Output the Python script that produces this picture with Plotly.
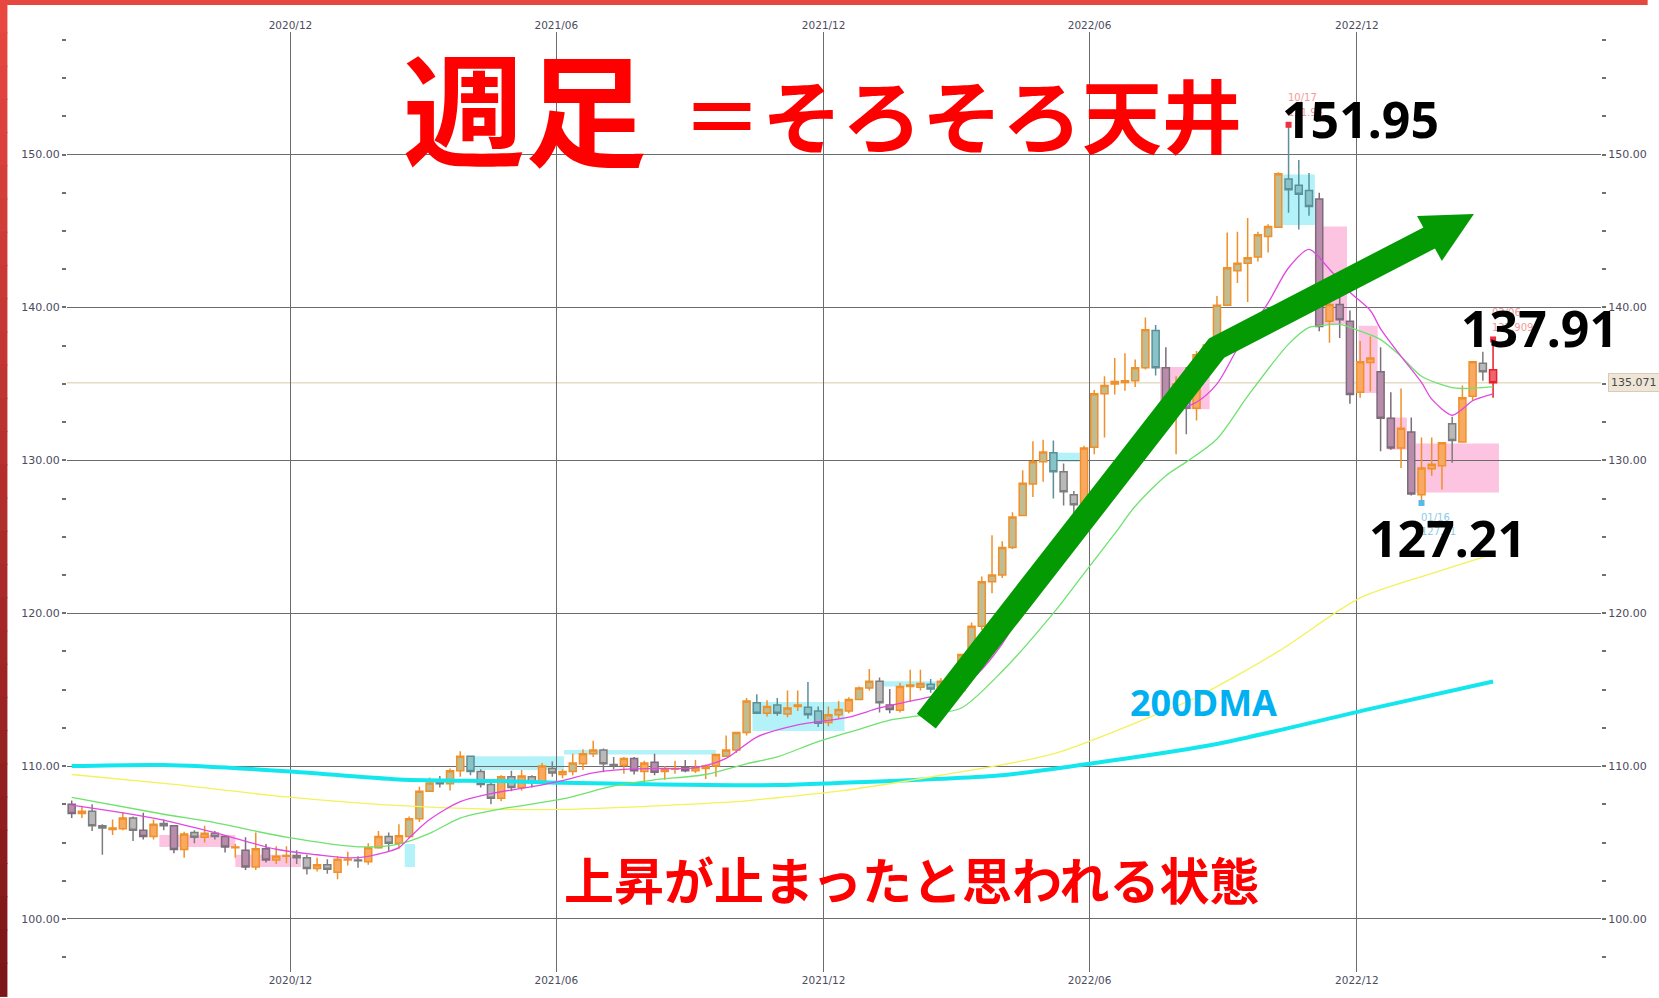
import pandas as pd
import plotly.graph_objects as go

# weekly USD/JPY candles, one per Monday
dates = pd.date_range("2020-07-06", periods=140, freq="7D")

opens = [
    107.5, 106.9, 107.05, 106.1, 105.85, 105.9, 106.6, 105.8, 105.4, 106.25,
    106.1, 104.55, 105.65, 105.35, 105.6, 105.4, 104.65, 104.5, 103.4, 104.6,
    103.85, 104.1, 104.15, 104.0, 103.3, 103.55, 103.05, 103.85, 103.85, 103.75,
    104.65, 105.4, 104.95, 105.4, 106.55, 108.35, 108.95, 108.85, 109.7, 110.65,
    109.65, 108.8, 107.9, 109.3, 108.6, 109.3, 108.95, 109.85, 109.45, 109.65,
    110.15, 110.8, 111.05, 110.1, 110.05, 110.5, 109.65, 110.25, 109.65, 109.8,
    109.9, 109.7, 109.85, 110.0, 110.65, 111.05, 112.2, 114.15, 113.45, 114.0,
    113.4, 113.9, 113.85, 113.6, 112.85, 113.35, 113.6, 114.35, 115.1, 115.55,
    114.0, 113.65, 115.2, 115.15, 115.35, 115.05, 115.55, 114.95, 117.3, 119.15,
    122.05, 122.5, 124.3, 126.4, 128.45, 129.9, 130.5, 129.25, 127.75, 126.95,
    130.85, 134.35, 135.0, 135.1, 135.2, 136.05, 138.5, 136.05, 133.35, 135.0,
    133.4, 136.95, 137.55, 140.15, 142.4, 142.9, 143.3, 144.65, 145.25, 148.4,
    148.0, 147.65, 147.1, 139.1, 140.2, 139.1, 134.45, 136.4, 135.8, 132.75,
    130.8, 131.85, 127.75, 129.45, 129.65, 132.4, 131.2, 134.2, 136.35, 135.92,
]
highs = [
    107.75, 107.4, 107.5, 106.2, 106.5, 107.0, 106.7, 106.95, 106.5, 106.5,
    106.1, 105.7, 105.8, 106.1, 105.75, 105.5, 104.9, 105.35, 105.65, 104.9,
    104.75, 104.75, 104.5, 104.2, 104.0, 103.9, 104.1, 104.4, 104.1, 104.95,
    105.75, 105.65, 106.2, 106.7, 108.65, 109.25, 109.35, 109.85, 110.97, 110.7,
    109.8, 108.9, 109.4, 109.7, 109.75, 109.4, 110.2, 110.3, 109.8, 110.8,
    111.1, 111.66, 111.15, 110.6, 110.6, 110.6, 110.35, 110.8, 110.0, 110.35,
    110.4, 110.4, 110.1, 110.8, 112.0, 112.25, 114.45, 114.7, 114.3, 114.45,
    114.95, 114.95, 115.5, 113.9, 113.9, 114.25, 114.5, 115.2, 116.35, 115.8,
    115.05, 115.45, 116.3, 116.3, 115.7, 115.75, 115.8, 117.35, 119.4, 122.4,
    125.1, 124.7, 126.6, 129.35, 131.25, 131.35, 131.3, 129.8, 128.0, 130.95,
    134.6, 135.5, 136.7, 137.0, 136.6, 139.35, 138.85, 137.4, 135.5, 136.1,
    137.15, 137.7, 140.75, 144.9, 144.95, 145.85, 144.95, 145.45, 148.85, 151.95,
    149.65, 148.8, 147.5, 140.8, 142.25, 139.8, 137.8, 138.1, 137.4, 134.45,
    134.7, 132.8, 131.5, 131.5, 131.2, 132.85, 134.9, 136.5, 137.1, 137.909,
]
lows = [
    106.6, 106.6, 105.75, 104.2, 105.5, 105.8, 105.1, 105.2, 105.2, 105.8,
    104.3, 104.0, 104.95, 105.0, 105.2, 104.35, 104.0, 103.2, 103.2, 103.7,
    103.6, 103.65, 103.6, 102.9, 103.1, 102.95, 102.6, 103.5, 103.35, 103.55,
    104.6, 104.4, 104.6, 105.3, 106.35, 108.3, 108.6, 108.4, 109.3, 109.4,
    108.6, 107.5, 107.7, 108.35, 108.4, 108.6, 108.8, 109.3, 109.2, 109.4,
    109.75, 110.6, 109.6, 109.8, 109.5, 109.45, 108.9, 109.4, 109.1, 109.5,
    109.6, 109.55, 109.15, 109.3, 110.6, 110.85, 112.0, 113.4, 113.25, 113.3,
    113.2, 113.6, 113.1, 112.55, 112.6, 113.1, 113.45, 114.3, 114.95, 113.5,
    113.45, 113.5, 114.2, 114.95, 114.8, 114.4, 114.65, 114.85, 117.2, 118.9,
    121.3, 122.3, 124.2, 126.4, 127.6, 128.6, 127.5, 127.05, 126.4, 126.9,
    130.4, 131.5, 134.3, 134.55, 134.8, 135.95, 135.55, 132.5, 130.4, 131.7,
    132.6, 136.3, 137.5, 140.1, 141.6, 140.35, 143.0, 143.6, 145.2, 146.2,
    145.1, 146.0, 138.45, 137.7, 138.0, 133.7, 134.1, 134.5, 130.6, 130.7,
    129.5, 127.7, 127.21, 129.0, 128.1, 129.85, 131.2, 133.9, 135.2, 134.1,
]
closes = [
    106.9, 107.05, 106.1, 105.95, 105.95, 106.6, 105.8, 105.4, 106.2, 106.1,
    104.55, 105.55, 105.35, 105.6, 105.4, 104.7, 104.7, 103.4, 104.6, 103.85,
    104.1, 104.15, 104.0, 103.3, 103.55, 103.25, 103.9, 103.9, 103.8, 104.65,
    105.4, 104.95, 105.45, 106.55, 108.35, 108.9, 108.85, 109.7, 110.65, 109.65,
    108.8, 107.9, 109.3, 108.6, 109.35, 108.95, 110.0, 109.55, 109.65, 110.2,
    110.8, 111.05, 110.15, 110.05, 110.5, 109.7, 110.2, 109.6, 109.8, 109.85,
    109.7, 109.9, 110.0, 110.75, 111.05, 112.2, 114.25, 113.45, 113.9, 113.45,
    113.8, 114.0, 113.35, 112.8, 113.35, 113.7, 114.35, 115.1, 115.55, 114.15,
    113.7, 115.2, 115.3, 115.4, 115.05, 115.55, 114.85, 117.3, 119.15, 122.05,
    122.5, 124.3, 126.3, 128.5, 129.9, 130.55, 129.25, 127.95, 127.1, 130.8,
    134.35, 134.9, 135.15, 135.2, 136.05, 138.55, 136.05, 133.3, 135.0, 133.4,
    136.9, 137.55, 140.15, 142.6, 142.9, 143.25, 144.75, 145.3, 148.75, 147.7,
    147.4, 146.6, 138.75, 140.2, 139.2, 134.3, 136.45, 136.7, 132.75, 130.8,
    132.1, 127.8, 129.5, 129.75, 131.15, 131.3, 134.1, 136.45, 135.8, 135.071,
]
# body tone of each candle as drawn by the charting tool
tones = (
    "m u g g u u g m u g  m u g u g m u m u m  u u g g u g u u g u  "
    "u g u o o o g o o t  g g u g u g u g u o  u o g g u m u m u u  "
    "m u u u o o o t o t  o o t t o o u o o g  m u o o t o g o o o  "
    "o o o o o o t g g u  o o o o o o t m u g  u u o o o o o o o t  "
    "t t m u m m u u m m  u m u u u g u u g r"
).split()

# moving averages (candle index -> value)
ma13_at = [0, 8, 14, 20, 24, 27, 29, 32, 33, 35, 38, 41, 45, 48, 51, 54, 57, 61, 64, 67,
           71, 73, 76, 79, 82, 85, 88, 91, 94, 97, 100, 102, 104, 106, 108, 110, 112, 114, 117, 119,
           121, 123, 125, 127, 128, 130, 132, 133, 135, 136, 137, 139]
ma13 = [107.45, 106.6, 105.65, 104.56, 104.2, 104.0, 104.1, 104.67, 105.3, 106.5, 107.67, 108.2,
        108.65, 109.05, 109.56, 109.78, 109.84, 109.9, 110.5, 111.9,
        112.7, 112.9, 113.2, 113.8, 114.25, 114.7, 115.7, 118.0, 121.5, 124.8, 127.7, 129.5,
        131.5, 133.0, 133.3, 133.8, 135.0, 137.3, 140.3, 142.6,
        143.8, 142.5, 141.0, 139.8, 138.6, 136.8, 135.1, 134.0, 132.95, 133.35, 133.9, 134.35]
ma26_at = [0, 9, 14, 21, 28, 32, 35, 38, 42, 48, 53, 57, 62, 66, 69, 73, 77, 80, 84, 87,
           91, 96, 99, 102, 104, 107, 109, 112, 115, 119, 121, 122, 124, 126, 128, 130, 132, 135, 136, 139]
ma26 = [107.95, 106.85, 106.3, 105.35, 104.72, 104.9, 105.6, 106.6, 107.2, 107.85,
        108.7, 109.1, 109.45, 110.15, 110.6, 111.6, 112.4, 113.0, 113.4, 113.8,
        116.2, 120.0, 122.6, 125.2, 127.0, 129.0, 129.9, 131.4, 134.2, 137.6,
        138.7, 138.8, 138.9, 138.45, 137.9, 136.8, 135.5, 134.75, 134.7, 134.8]
ma100_at = [0, 10, 21, 30, 42, 48, 65, 69, 75, 85, 96, 106, 110, 118, 126, 133, 139]
ma100 = [109.45, 108.8, 107.98, 107.5, 107.17, 107.17, 107.67, 107.93, 108.36, 109.4,
         110.8, 113.36, 114.5, 117.5, 121.0, 122.6, 123.87]
ma200_at = [0, 9, 21, 32, 42, 48, 69, 75, 91, 100, 112, 127, 139]
ma200 = [110.0, 110.07, 109.67, 109.13, 109.02, 108.91, 108.76, 108.9, 109.4, 110.2,
         111.45, 113.74, 115.53]

# shaded boxes behind the candles
zone_start = ["2020-09-04", "2020-10-26", "2021-02-19", "2021-04-05", "2021-06-08", "2021-10-15",
              "2022-01-11", "2022-05-06", "2022-07-21", "2022-10-13", "2022-11-04", "2022-12-04",
              "2022-12-24", "2023-01-12"]
zone_end = ["2020-10-26", "2020-12-10", "2021-02-26", "2021-06-08", "2021-09-20", "2021-12-17",
            "2022-02-23", "2022-05-27", "2022-08-24", "2022-11-04", "2022-11-26", "2022-12-17",
            "2023-01-06", "2023-03-10"]
zone_low = [104.7, 103.4, 103.4, 109.75, 110.75, 112.3, 115.2, 129.9, 133.35, 145.4, 138.9, 134.4, 130.7, 127.9]
zone_high = [105.5, 104.2, 104.9, 110.65, 111.05, 114.2, 115.55, 130.5, 136.1, 148.7, 145.3, 138.8, 132.8, 131.1]
zone_kind = ["pink", "pink", "cyan", "cyan", "cyan", "cyan", "cyan", "cyan", "pink", "cyan",
             "pink", "pink", "pink", "pink"]

x_ticks = ["2020-12-02 18:00", "2021-06-02 18:00", "2021-12-02 18:00", "2022-06-02 18:00", "2022-12-02 18:00"]
x_labels = ["2020/12", "2021/06", "2021/12", "2022/06", "2022/12"]
x_range = ["2020-07-02 19:00", "2023-05-18 21:00"]
y_range = [96.53, 158.02]

# plot area in pixels, used to place the hand-drawn overlays
L, R, T, B = 67, 1612, 32, 975


def paper_x(px):
    return (px - L) / (R - L)


def paper_y(py):
    return (B - py) / (B - T)


tone_style = {
    "o": ("#f0902a", "#bfbd91"),
    "u": ("#f0902a", "#f8aa62"),
    "g": ("#7d7d7d", "#b9b9b9"),
    "m": ("#7b6d79", "#b98cab"),
    "t": ("#5b909a", "#88c3c8"),
    "r": ("#e8202a", "#f0646e"),
}

fig = go.Figure()

# moving averages (behind candles)
for at, vals, color, width in [
    (ma200_at, ma200, "#14e6ee", 4),
    (ma100_at, ma100, "#f2f25a", 1.3),
    (ma26_at, ma26, "#6ee26e", 1.3),
    (ma13_at, ma13, "#e048e0", 1.3),
]:
    fig.add_trace(go.Scatter(
        x=dates[at], y=vals, mode="lines",
        line=dict(color=color, width=width, shape="spline", smoothing=0.8),
        hoverinfo="skip",
    ))

for tone, (lc, fc) in tone_style.items():
    idx = [i for i, t in enumerate(tones) if t == tone]
    style = dict(line=dict(color=lc, width=1.5), fillcolor=fc)
    fig.add_trace(go.Candlestick(
        x=dates[idx],
        open=[opens[i] for i in idx],
        high=[highs[i] for i in idx],
        low=[lows[i] for i in idx],
        close=[closes[i] for i in idx],
        increasing=style, decreasing=style,
        whiskerwidth=0,
    ))

# marks for the top, the low after it, and the latest week's high
i_hi = highs.index(max(highs))
i_lo = i_hi + lows[i_hi:].index(min(lows[i_hi:]))
i_last = len(closes) - 1
fig.add_trace(go.Scatter(
    x=[dates[i_hi], dates[i_last]], y=[highs[i_hi], highs[i_last]], mode="markers",
    marker=dict(symbol="square", size=6, color="#f03040"), hoverinfo="skip",
))
fig.add_trace(go.Scatter(
    x=[dates[i_lo]], y=[lows[i_lo]], mode="markers",
    marker=dict(symbol="square", size=6, color="#58b8e8"), hoverinfo="skip",
))

# dummy trace so that the mirrored top / right axes are drawn
fig.add_trace(go.Scatter(
    x=[dates[0]], y=[100], xaxis="x2", yaxis="y2", mode="markers",
    marker=dict(opacity=0), hoverinfo="skip",
))

shapes = []
for s, e, lo, hi, kind in zip(zone_start, zone_end, zone_low, zone_high, zone_kind):
    shapes.append(dict(
        type="rect", xref="x", yref="y", x0=s, x1=e, y0=lo, y1=hi, layer="below",
        fillcolor="#fcc4e0" if kind == "pink" else "#b4f2f9", line=dict(width=0),
    ))
# current price line
shapes.append(dict(
    type="line", xref="paper", yref="y", x0=0, x1=1, y0=closes[-1], y1=closes[-1],
    layer="below", line=dict(color="#e6dcc6", width=1.5),
))

# green trend arrow
green = "#039a03"
pts = [(932.5, 723.3), (1225, 349), (1446, 235)]
path = "M " + " L ".join(f"{paper_x(x):.5f},{paper_y(y):.5f}" for x, y in pts)
shapes.append(dict(type="path", xref="paper", yref="paper", path=path,
                   line=dict(color=green, width=24), fillcolor="rgba(0,0,0,0)"))
head = [(1426.7, 216.7), (1484, 214.5), (1451.7, 261.7)]
path = "M " + " L ".join(f"{paper_x(x):.5f},{paper_y(y):.5f}" for x, y in head) + " Z"
shapes.append(dict(type="path", xref="paper", yref="paper", path=path,
                   fillcolor=green, line=dict(width=0)))

# red frame at the top and left edge
shapes.append(dict(type="rect", xref="paper", yref="paper", x0=paper_x(0), x1=paper_x(1659),
                   y0=paper_y(5), y1=paper_y(-2), fillcolor="#e5483f", line=dict(width=0)))
n_band = 30
for k in range(n_band):
    t = k / (n_band - 1)
    r = int(232 + (125 - 232) * t)
    g = int(72 + (22 - 72) * t)
    b = int(64 + (24 - 64) * t)
    shapes.append(dict(
        type="rect", xref="paper", yref="paper",
        x0=paper_x(-2), x1=paper_x(7),
        y0=paper_y(1000 * (k + 1) / n_band), y1=paper_y(1000 * k / n_band - 1),
        fillcolor=f"rgb({r},{g},{b})", line=dict(width=0),
    ))

jp = "Noto Sans CJK JP"
num = "Noto Sans"
small = "DejaVu Sans"


def label(text, cx, cy, size, color, family, weight="bold"):
    return dict(text=text, x=paper_x(cx), y=paper_y(cy), xref="paper", yref="paper",
                xanchor="center", yanchor="middle", showarrow=False,
                font=dict(family=family, size=size, color=color, weight=weight))


annotations = [
    label("週足", 528, 104, 122, "#ff0000", jp),
    label("＝そろそろ天井", 968, 112, 80, "#ff0000", jp),
    label("上昇が止まったと思われる状態", 918, 881, 50, "#ff0000", jp),
    label("200DMA", 1212, 705, 36, "#00b0f0", num),
    label(f"{highs[i_hi]:.2f}", 1370, 119, 50, "#000000", num),
    label(f"{highs[i_last]:.2f}", 1550, 329, 50, "#000000", num),
    label(f"{lows[i_lo]:.2f}", 1457, 540, 50, "#000000", num),
]

# small date / price tags next to the extremes (drawn under the big numbers)
for i, val, fmt, color, dys in [
    (i_hi, highs[i_hi], "{:.2f}", "#f29a9a", (27, 12)),
    (i_last, highs[i_last], "{:.3f}", "#f29a9a", (27, 12)),
    (i_lo, lows[i_lo], "{:.2f}", "#8ccbe8", (-15, -29)),
]:
    for text, dy in [(dates[i].strftime("%m/%d"), dys[0]), (fmt.format(val), dys[1])]:
        annotations.insert(0, dict(
            text=text, x=dates[i], y=val, xref="x", yref="y", xanchor="left",
            yanchor="middle", xshift=-3, yshift=dy, showarrow=False,
            font=dict(family=small, size=10, color=color),
        ))

annotations.append(dict(
    text=f"{closes[-1]:.3f}", x=paper_x(1619), y=closes[-1], xref="paper", yref="y",
    xanchor="left", yanchor="middle", showarrow=False, bgcolor="#efe6d8",
    bordercolor="#d9ccb6", borderwidth=1, borderpad=2,
    font=dict(family=small, size=11, color="#4a4a4a"),
))

grid = "#6c6c6c"
tickfont = dict(family=small, size=11, color="#4c4c60")
xtickfont = dict(family=small, size=10.5, color="#4c4c60")
yaxis_common = dict(
    range=y_range, tickmode="linear", tick0=100, dtick=10, tickformat=".2f",
    ticks="outside", ticklen=4, tickwidth=1.5, tickcolor="#707070", tickfont=tickfont,
    minor=dict(dtick=2.5, ticks="outside", ticklen=4, tickwidth=1.5, tickcolor="#707070", showgrid=False),
    zeroline=False, showline=False, fixedrange=True,
)
xaxis_common = dict(
    type="date", range=x_range, tickmode="array", tickvals=x_ticks, ticktext=x_labels,
    ticks="", tickfont=xtickfont, zeroline=False, showline=False,
)

fig.update_layout(
    width=1659, height=998,
    margin=dict(l=L, r=1659 - R, t=T, b=998 - B),
    paper_bgcolor="white", plot_bgcolor="white",
    showlegend=False,
    boxgap=0.17, boxgroupgap=0.17,
    xaxis=dict(**xaxis_common, showgrid=True, gridcolor=grid, gridwidth=1.2,
               rangeslider=dict(visible=False)),
    xaxis2=dict(**xaxis_common, overlaying="x", side="top", showgrid=False),
    yaxis=dict(**yaxis_common, showgrid=True, gridcolor=grid, gridwidth=1.2),
    yaxis2=dict(**yaxis_common, overlaying="y", side="right", showgrid=False),
    shapes=shapes,
    annotations=annotations,
)

fig.write_html("out.html", config={"displayModeBar": False},
               post_script="document.body.style.margin='0px';")
